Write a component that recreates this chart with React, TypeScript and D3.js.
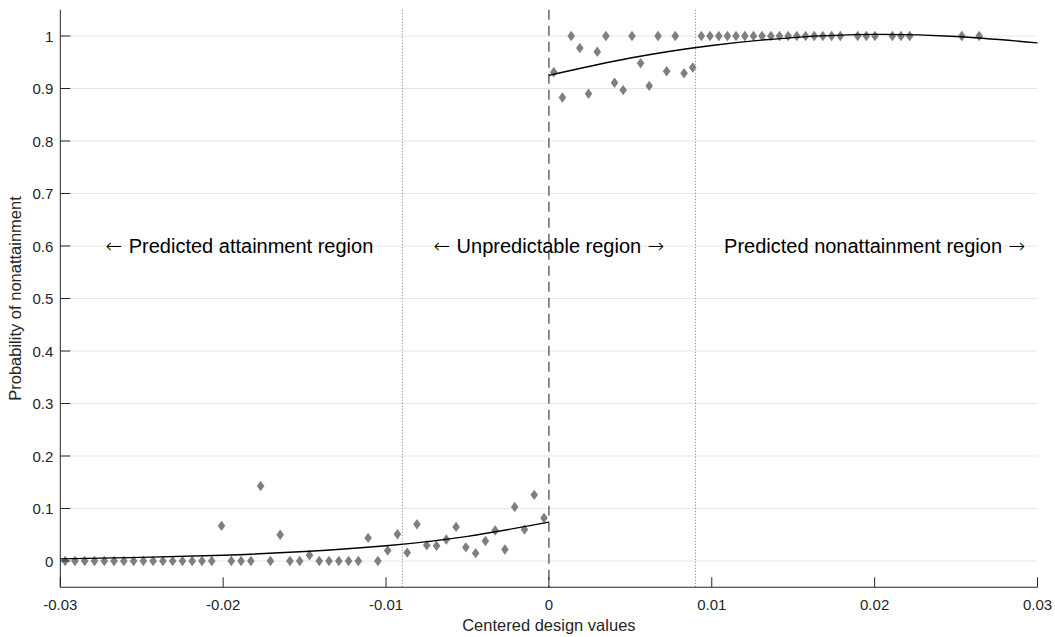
import { useRef, useEffect } from 'react'
import * as d3 from 'd3'

// bins below the standard (centered design value < 0)
const leftX = [
  -0.0297, -0.0291, -0.0285, -0.0279, -0.0273, -0.0267, -0.0261, -0.0255, -0.0249, -0.0243,
  -0.0237, -0.0231, -0.0225, -0.0219, -0.0213, -0.0207, -0.0201, -0.0195, -0.0189, -0.0183,
  -0.0177, -0.0171, -0.0165, -0.0159, -0.0153, -0.0147, -0.0141, -0.0135, -0.0129, -0.0123,
  -0.0117, -0.0111, -0.0105, -0.0099, -0.0093, -0.0087, -0.0081, -0.0075, -0.0069, -0.0063,
  -0.0057, -0.0051, -0.0045, -0.0039, -0.0033, -0.0027, -0.0021, -0.0015, -0.0009, -0.0003,
]
const leftP = [
  0, 0, 0, 0, 0, 0, 0, 0, 0, 0,
  0, 0, 0, 0, 0, 0, 0.067, 0, 0, 0,
  0.143, 0, 0.05, 0, 0, 0.011, 0, 0, 0, 0,
  0, 0.044, 0, 0.02, 0.051, 0.016, 0.07, 0.03, 0.029, 0.041,
  0.065, 0.026, 0.015, 0.038, 0.058, 0.022, 0.103, 0.06, 0.126, 0.082,
]

// bins above the standard
const rightX = [
  0.00030, 0.00083, 0.00137, 0.00190, 0.00243, 0.00297, 0.00350, 0.00403, 0.00456, 0.00510,
  0.00563, 0.00616, 0.00670, 0.00723, 0.00776, 0.00830, 0.00883, 0.00936, 0.00989, 0.01043,
  0.01096, 0.01149, 0.01203, 0.01256, 0.01309, 0.01363, 0.01416, 0.01469, 0.01522, 0.01576,
  0.01629, 0.01682, 0.01736, 0.01789, 0.01896, 0.01949, 0.02002, 0.02109, 0.02162, 0.02215,
  0.02535, 0.02642,
]
const rightP = [
  0.931, 0.883, 1, 0.977, 0.89, 0.970, 1, 0.911, 0.897, 1,
  0.948, 0.905, 1, 0.933, 1, 0.929, 0.94, 1, 1, 1,
  1, 1, 1, 1, 1, 1, 1, 1, 1, 1,
  1, 1, 1, 1, 1, 1, 1, 1, 1, 1,
  1, 1,
]

// fitted curves
const fitLeftX = [-0.03, -0.025, -0.02, -0.015, -0.01, -0.005, 0]
const fitLeftP = [0.004, 0.007, 0.011, 0.018, 0.029, 0.047, 0.074]
const fitRightX = [0, 0.005, 0.01, 0.015, 0.02, 0.025, 0.03]
const fitRightP = [0.925, 0.958, 0.982, 0.997, 1.003, 0.999, 0.987]

const xTicks = [-0.03, -0.02, -0.01, 0, 0.01, 0.02, 0.03]
const yTicks = [0, 0.1, 0.2, 0.3, 0.4, 0.5, 0.6, 0.7, 0.8, 0.9, 1]
const cutoffs = [-0.009, 0.009]

const regionLabels = [
  { x: -0.019, pre: '\u2190 ', text: 'Predicted attainment region', post: '' },
  { x: 0, pre: '\u2190 ', text: 'Unpredictable region', post: ' \u2192' },
  { x: 0.02, pre: '', text: 'Predicted nonattainment region', post: ' \u2192' },
]

const FONT = '"Liberation Sans", Arial, Helvetica, sans-serif'
const ARROW_FONT = '"DejaVu Sans", sans-serif'
const AXIS = '#262626'

export default function App() {
  const svgRef = useRef<SVGSVGElement>(null)

  useEffect(() => {
    if (!svgRef.current) return
    const W = 1055
    const H = 637
    const svg = d3.select(svgRef.current)
    svg.selectAll('*').remove()

    const x = d3.scaleLinear().domain([-0.03, 0.03]).range([60.3, 1037.5])
    const y = d3.scaleLinear().domain([-0.05, 1.05]).range([587.25, 9.75])
    const [x0, x1] = x.range()
    const [y0, y1] = y.range()

    // grid
    svg.append('g').selectAll('line')
      .data(yTicks)
      .join('line')
      .attr('x1', x0).attr('x2', x1)
      .attr('y1', d => y(d)).attr('y2', d => y(d))
      .attr('stroke', '#e6e6e6')

    // cutoff lines
    svg.append('g').selectAll('line')
      .data(cutoffs)
      .join('line')
      .attr('x1', d => x(d)).attr('x2', d => x(d))
      .attr('y1', y1).attr('y2', y0)
      .attr('stroke', '#777').attr('stroke-width', 1)
      .attr('stroke-dasharray', '1,2')

    svg.append('line')
      .attr('x1', x(0)).attr('x2', x(0))
      .attr('y1', y1).attr('y2', y0)
      .attr('stroke', '#666').attr('stroke-width', 1.5)
      .attr('stroke-dasharray', '10,6')

    // region labels
    const lbl = svg.append('g').selectAll('text')
      .data(regionLabels)
      .join('text')
      .attr('x', d => x(d.x)).attr('y', y(0.6) + 7)
      .attr('text-anchor', 'middle')
      .attr('font-family', FONT).attr('font-size', 20)
      .attr('fill', '#000')
    lbl.append('tspan').attr('font-family', ARROW_FONT).attr('font-weight', 300).text(d => d.pre)
    lbl.append('tspan').text(d => d.text)
    lbl.append('tspan').attr('font-family', ARROW_FONT).attr('font-weight', 300).text(d => d.post)

    // points
    const pts = [
      ...leftX.map((v, i) => [v, leftP[i]]),
      ...rightX.map((v, i) => [v, rightP[i]]),
    ]
    svg.append('g').selectAll('path')
      .data(pts)
      .join('path')
      .attr('d', d => {
        const cx = x(d[0]), cy = y(d[1])
        return `M${cx},${cy - 5.2}L${cx + 3.8},${cy}L${cx},${cy + 5.2}L${cx - 3.8},${cy}Z`
      })
      .attr('fill', '#7f7f7f')

    // fitted curves
    const line = d3.line<number[]>().x(d => x(d[0])).y(d => y(d[1])).curve(d3.curveNatural)
    svg.append('path')
      .datum(fitLeftX.map((v, i) => [v, fitLeftP[i]]))
      .attr('d', line).attr('fill', 'none').attr('stroke', '#000').attr('stroke-width', 1.4)
    svg.append('path')
      .datum(fitRightX.map((v, i) => [v, fitRightP[i]]))
      .attr('d', line).attr('fill', 'none').attr('stroke', '#000').attr('stroke-width', 1.4)

    // axes
    const ax = svg.append('g').attr('stroke', AXIS).attr('stroke-width', 1)
    ax.append('line').attr('x1', x0).attr('x2', x0).attr('y1', y1).attr('y2', y0)
    ax.append('line').attr('x1', x0).attr('x2', x1).attr('y1', y0).attr('y2', y0)
    ax.selectAll('.yt').data(yTicks).join('line')
      .attr('x1', x0).attr('x2', x0 + 10)
      .attr('y1', d => y(d)).attr('y2', d => y(d))
    ax.selectAll('.xt').data(xTicks).join('line')
      .attr('x1', d => x(d)).attr('x2', d => x(d))
      .attr('y1', y0).attr('y2', y0 - 10)

    svg.append('g').selectAll('text')
      .data(yTicks)
      .join('text')
      .attr('x', x0 - 7).attr('y', d => y(d) + 5.5)
      .attr('text-anchor', 'end')
      .attr('font-family', FONT).attr('font-size', 15).attr('fill', AXIS)
      .text(d => String(d))

    svg.append('g').selectAll('text')
      .data(xTicks)
      .join('text')
      .attr('x', d => x(d)).attr('y', 610)
      .attr('text-anchor', 'middle')
      .attr('font-family', FONT).attr('font-size', 15).attr('fill', AXIS)
      .text(d => String(d))

    svg.append('text')
      .attr('x', x(0)).attr('y', 631)
      .attr('text-anchor', 'middle')
      .attr('font-family', FONT).attr('font-size', 16.5).attr('fill', AXIS)
      .text('Centered design values')

    svg.append('text')
      .attr('transform', `translate(21,${(y0 + y1) / 2}) rotate(-90)`)
      .attr('text-anchor', 'middle')
      .attr('font-family', FONT).attr('font-size', 16.5).attr('fill', AXIS)
      .text('Probability of nonattainment')

    svg.attr('width', W).attr('height', H)
  }, [])

  return (
    <div style={{ position: 'absolute', left: 0, top: 0 }}>
      <svg ref={svgRef} width={1055} height={637} style={{ display: 'block' }} />
    </div>
  )
}
